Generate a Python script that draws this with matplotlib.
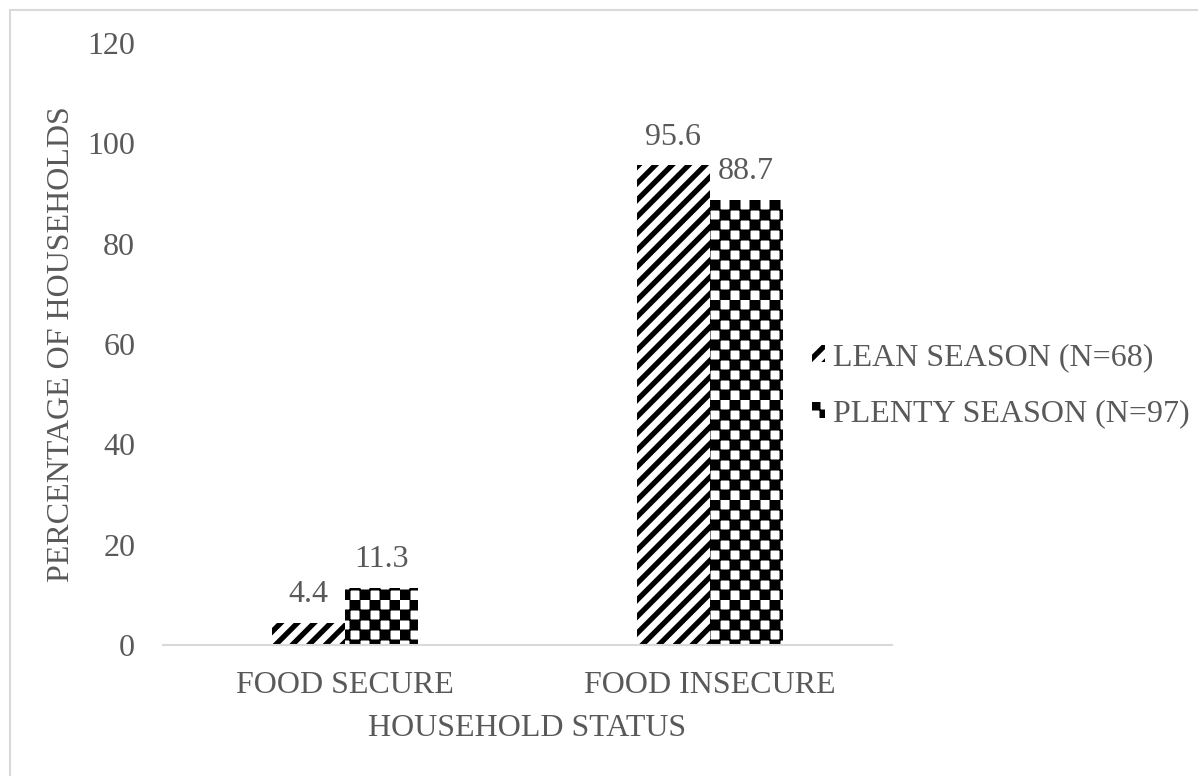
import warnings
import numpy as np
import matplotlib
matplotlib.use('Agg')
import matplotlib.pyplot as plt
import matplotlib.hatch as mhatch
from matplotlib.path import Path
from matplotlib.patches import Rectangle

warnings.filterwarnings('ignore')

categories = ['FOOD SECURE', 'FOOD INSECURE']
lean_season = [4.4, 95.6]
plenty_season = [11.3, 88.7]
series_names = ['LEAN SEASON (N=68)', 'PLENTY SEASON (N=97)']
y_ticks = [0, 20, 40, 60, 80, 100, 120]

TEXT = '#595959'
GRID = '#D9D9D9'


class StripeHatch(mhatch.HatchPatternBase):
    # thick filled '/' stripes, selected by 'j' in the hatch string
    def __init__(self, hatch, density):
        self.n = 6 if 'j' in hatch else 0
        self.num_vertices = 2 * self.n * 5

    def set_vertices_and_codes(self, vertices, codes):
        t = 0.075  # horizontal stripe thickness
        k = 0
        for i in range(-self.n, self.n):
            c = i / self.n
            vertices[k:k + 5] = [(c, 0), (c + t, 0), (c + t + 1, 1), (c + 1, 1), (c, 0)]
            codes[k:k + 5] = [Path.MOVETO, Path.LINETO, Path.LINETO,
                              Path.LINETO, Path.CLOSEPOLY]
            k += 5


class CheckerHatch(mhatch.HatchPatternBase):
    # filled checkerboard squares, selected by 'k' in the hatch string
    def __init__(self, hatch, density):
        self.n = 10 if 'k' in hatch else 0
        self.num_vertices = (self.n * self.n // 2) * 5

    def set_vertices_and_codes(self, vertices, codes):
        s = 1.0 / self.n
        grow = 0.005  # let neighbouring squares meet at the corners
        k = 0
        for i in range(self.n):
            for j in range(self.n):
                if (i + j) % 2:
                    continue
                x0, y0 = i * s - grow, j * s - grow
                x1, y1 = (i + 1) * s + grow, (j + 1) * s + grow
                vertices[k:k + 5] = [(x0, y0), (x1, y0), (x1, y1), (x0, y1), (x0, y0)]
                codes[k:k + 5] = [Path.MOVETO, Path.LINETO, Path.LINETO,
                                  Path.LINETO, Path.CLOSEPOLY]
                k += 5


mhatch._hatch_types.extend([StripeHatch, CheckerHatch])

plt.rcParams['font.family'] = ['Liberation Serif', 'DejaVu Serif']
plt.rcParams['hatch.linewidth'] = 0.0
plt.rcParams['hatch.color'] = 'black'
FS = 23

fig = plt.figure(figsize=(11.98, 7.76), dpi=100)
ax = fig.add_axes([0.136, 0.1688, 0.6086, 0.7758])

x = np.arange(len(categories))
w = 0.2
b1 = ax.bar(x - w / 2, lean_season, w, color='white', edgecolor='black',
            linewidth=0, hatch='j', label=series_names[0])
b2 = ax.bar(x + w / 2, plenty_season, w, color='white', edgecolor='black',
            linewidth=0, hatch='k', label=series_names[1])

for bars in (b1, b2):
    for p in bars:
        if hasattr(p, 'set_hatch_linewidth'):
            p.set_hatch_linewidth(0.0)
    ax.bar_label(bars, fmt='%.1f', padding=10, fontsize=FS, color=TEXT)

ax.set_xlim(-0.5, 1.5)
ax.set_ylim(0, 120)
ax.set_yticks(y_ticks)
ax.set_xticks(x)
ax.set_xticklabels(categories)
ax.tick_params(axis='both', length=0, labelsize=FS, labelcolor=TEXT)
ax.tick_params(axis='x', pad=19)
ax.tick_params(axis='y', pad=20)

for side in ['top', 'right', 'left']:
    ax.spines[side].set_visible(False)
ax.spines['bottom'].set_color(GRID)
ax.spines['bottom'].set_linewidth(1.5)

ax.set_xlabel('HOUSEHOLD STATUS', fontsize=FS, color=TEXT)
ax.xaxis.set_label_coords(0.5, -0.114)
fig.text(62 / 1198, 0.557, 'PERCENTAGE OF HOUSEHOLDS', rotation=90,
         ha='center', va='center', fontsize=FS, color=TEXT)

leg = fig.legend(handles=[b1, b2], loc='center left', bbox_to_anchor=(0.678, 0.503),
                 frameon=False, fontsize=FS, labelcolor=TEXT, borderpad=0,
                 borderaxespad=0, handlelength=0.41, handleheight=0.41,
                 handletextpad=0.25, labelspacing=0.86)
for h in leg.legend_handles:
    if hasattr(h, 'set_hatch_linewidth'):
        h.set_hatch_linewidth(0.0)

# outer chart border
fig.patches.append(Rectangle((10 / 1198, -0.1), 1.2, 1.1 - 10 / 776,
                             transform=fig.transFigure, fill=False,
                             edgecolor=GRID, linewidth=1.5))

fig.savefig('out.png', dpi=100)
